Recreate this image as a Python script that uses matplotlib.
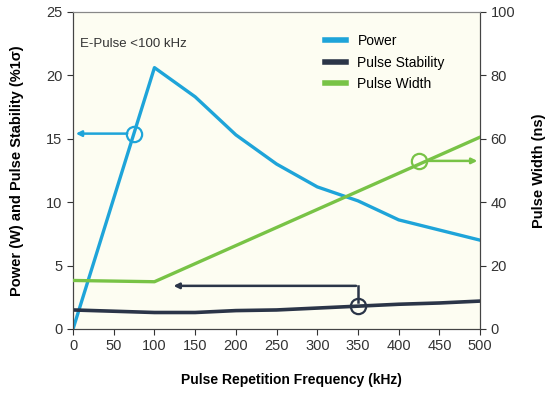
import matplotlib
matplotlib.use("Agg")
import matplotlib.pyplot as plt

freq = [0, 50, 100, 150, 200, 250, 300, 350, 400, 450, 500]
power = [0, 10.3, 20.6, 18.3, 15.3, 13.0, 11.2, 10.1, 8.6, 7.8, 7.0]
stability = [1.5, 1.4, 1.3, 1.3, 1.45, 1.5, 1.65, 1.8, 1.95, 2.05, 2.2]
width_freq = [0, 100, 500]
pulse_width = [15.3, 14.9, 60.5]

c_power = "#1ea4d9"
c_stab = "#2b3548"
c_width = "#78c346"
bg = "#fdfdf2"

plt.rcParams['font.family'] = ['Liberation Sans', 'DejaVu Sans']

fig = plt.figure(figsize=(5.45, 3.94), dpi=100)
fig.patch.set_facecolor("white")
ax = fig.add_axes([0.134, 0.165, 0.747, 0.805])
ax.set_facecolor(bg)
ax2 = ax.twinx()

lp, = ax.plot(freq, power, color=c_power, lw=2.4, label="Power", zorder=3)
ls, = ax.plot(freq, stability, color=c_stab, lw=2.6, label="Pulse Stability", zorder=3)
lw_, = ax2.plot(width_freq, pulse_width, color=c_width, lw=2.4, label="Pulse Width", zorder=3)

ax.set_xlim(0, 500)
ax.set_ylim(0, 25)
ax2.set_ylim(0, 100)
ax.set_xticks(range(0, 501, 50))
ax.set_yticks(range(0, 26, 5))
ax2.set_yticks(range(0, 101, 20))

for a in (ax, ax2):
    a.tick_params(direction="out", length=4, width=0.8, labelsize=10.5, colors="#333333")
    for s in ("left", "right", "bottom"):
        a.spines[s].set_color("#444444")
    a.spines["top"].set_color("#888888")

ax.set_xlabel("Pulse Repetition Frequency (kHz)", fontsize=10, fontweight="bold", labelpad=16)
ax.xaxis.set_label_coords(0.536, -0.14)
ax.set_ylabel("Power (W) and Pulse Stability (%1σ)", fontsize=10.5, fontweight="bold", labelpad=16)
ax2.set_ylabel("Pulse Width (ns)", fontsize=10.5, fontweight="bold", labelpad=12)

ax.text(8, 22.2, "E-Pulse <100 kHz", fontsize=9.5, color="#333333")

# annotations: power
ax.plot([75], [15.4], marker="o", ms=11, mfc="none", mec=c_power, mew=1.6, zorder=4)
ax.annotate("", xy=(0, 15.4), xytext=(70, 15.4),
            arrowprops=dict(arrowstyle="-|>", color=c_power, lw=1.8, mutation_scale=8), zorder=4)
# pulse width
ax2.plot([425], [53], marker="o", ms=11, mfc="none", mec=c_width, mew=1.6, zorder=4)
ax2.annotate("", xy=(500, 53), xytext=(431, 53),
             arrowprops=dict(arrowstyle="-|>", color=c_width, lw=1.8, mutation_scale=8), zorder=4)
# stability
ax.plot([350], [1.8], marker="o", ms=11, mfc="none", mec=c_stab, mew=1.6, zorder=4)
ax.plot([350, 350], [2.1, 3.4], color=c_stab, lw=1.8, zorder=4)
ax.annotate("", xy=(120, 3.4), xytext=(351, 3.4),
            arrowprops=dict(arrowstyle="-|>", color=c_stab, lw=1.8, mutation_scale=8), zorder=4)

leg = ax.legend(handles=[lp, ls, lw_], loc="upper left", bbox_to_anchor=(0.62, 0.93),
                frameon=False, fontsize=10, handlelength=1.45, handletextpad=0.85,
                labelspacing=0.55, borderaxespad=0, borderpad=0)
for h in leg.legend_handles:
    h.set_linewidth(4)

fig.savefig("out.png", dpi=100)
